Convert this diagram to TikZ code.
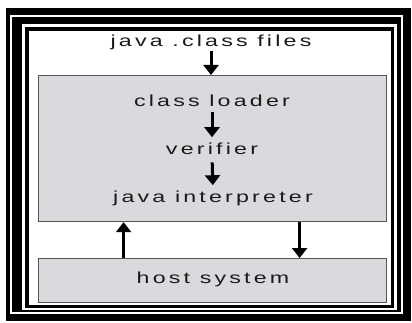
\documentclass[tikz,border=0pt]{standalone}
\usepackage{fontspec}
\setmainfont{Liberation Sans}
\newfontfamily\widefont[FakeStretch=1.45,LetterSpace=20]{Liberation Sans}
\usetikzlibrary{arrows.meta}
\definecolor{boxgray}{HTML}{DCD9DE}
\definecolor{edgegray}{HTML}{555555}
\definecolor{txt}{HTML}{1A1A1A}
\begin{document}
\begin{tikzpicture}[x=1pt,y=-1pt,
  lbl/.style={font=\widefont\fontsize{16}{19}\selectfont, text=txt, inner sep=0pt, anchor=base},
  panel/.style={draw=edgegray, line width=1.2pt, fill=boxgray, inner sep=0pt},
  arr/.style={line width=3pt, -{Triangle[length=10pt,width=15pt]}, draw=black}]
\useasboundingbox (0,0) rectangle (412,323);
\fill[white] (0,0) rectangle (412,323);
% layered frame
\fill[black] (6,8) rectangle (411,321);
\fill[white] (10,15) rectangle (403,314);
\fill[black] (12,17) rectangle (401,312);
\fill[white] (22,24) rectangle (397,310);
\fill[black] (25,27) rectangle (394,308);
\fill[white] (29,31) rectangle (391,305);
% panels
\node[panel, anchor=north west, minimum width=348pt, minimum height=146pt] (main) at (38,75) {};
\node[panel, anchor=north west, minimum width=348pt, minimum height=44pt] (host) at (38,258) {};
% labels
\node[lbl] (files) at (211,47) {java .class files};
\node[lbl] (loader) at (212,107) {class loader};
\node[lbl] (verifier) at (212,155) {verifier};
\node[lbl] (interp) at (213,203) {java interpreter};
\node[lbl] (hostlbl) at (213,283) {host system};
% arrows
\draw[arr] (files.south) -- (files.south |- main.north);
\draw[arr, shorten <=5pt, shorten >=6pt] (loader.south) -- (verifier.north);
\draw[arr, shorten <=7pt, shorten >=6pt] (verifier.south) -- (interp.north);
\draw[arr] ([xshift=87pt]main.south) -- ([xshift=87pt]main.south |- host.north);
\draw[arr] ([xshift=-89pt]host.north) -- ([xshift=-89pt]host.north |- main.south);
\end{tikzpicture}
\end{document}
